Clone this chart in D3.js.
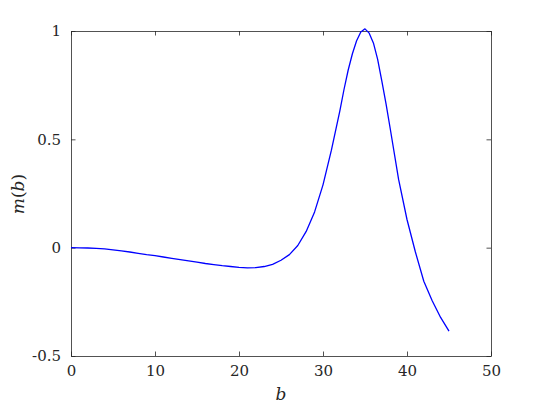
<!DOCTYPE html>
<html><head><meta charset="utf-8">
<script src="https://cdn.jsdelivr.net/npm/d3@7"></script>
<style>body{margin:0;background:#fff}svg{display:block}
text{font-family:"DejaVu Serif","Liberation Serif",serif}</style>
</head><body>
<svg id="c" width="545" height="409"></svg>
<script>
const bValues = [0,1,2,3,4,5,6,7,8,9,10,11,12,13,14,15,16,17,18,19,20,21,22,23,24,25,26,27,28,29,30,31,31.5,32,32.5,33,33.5,34,34.5,35,35.5,36,36.5,37,37.5,38,39,40,41,42,43,44,45];
const mValues = [0,-0.0005,-0.0015,-0.003,-0.006,-0.01,-0.015,-0.02,-0.026,-0.032,-0.037,-0.043,-0.049,-0.055,-0.061,-0.067,-0.073,-0.078,-0.083,-0.087,-0.091,-0.093,-0.092,-0.087,-0.077,-0.058,-0.032,0.01,0.075,0.165,0.29,0.45,0.54,0.63,0.73,0.82,0.895,0.955,0.995,1.01,0.99,0.945,0.87,0.77,0.665,0.55,0.315,0.13,-0.02,-0.155,-0.245,-0.322,-0.385];
const xTicks = [0,10,20,30,40,50];
const yTicks = [-0.5,0,0.5,1];
const yTickLabels = ["-0.5","0","0.5","1"];

const svg = d3.select("#c");
const L=71, R=491, T=31, B=356;
const x = d3.scaleLinear().domain([0,50]).range([L,R]);
const y = d3.scaleLinear().domain([-0.5,1]).range([B,T]);
const axisColor = "#262626";
const font = "DejaVu Serif, Liberation Serif, serif";

function style(g){
  g.attr("font-family",null);
  g.select(".domain").attr("stroke",axisColor).attr("stroke-width",0.8);
  g.selectAll(".tick line").attr("stroke",axisColor).attr("stroke-width",0.8);
  g.selectAll(".tick text").attr("fill",axisColor).style("font-family",font).style("font-size","15px");
}
const tl = 4.5;
svg.append("g").attr("transform",`translate(0,${B})`)
  .call(d3.axisBottom(x).tickValues(xTicks).tickSize(-tl).tickPadding(9).tickSizeOuter(0).tickFormat(d3.format("d")))
  .call(style);
svg.append("g").attr("transform",`translate(0,${T})`)
  .call(d3.axisTop(x).tickValues(xTicks).tickSize(-tl).tickSizeOuter(0).tickFormat(""))
  .call(style);
svg.append("g").attr("transform",`translate(${L},0)`)
  .call(d3.axisLeft(y).tickValues(yTicks).tickSize(-tl).tickPadding(10).tickSizeOuter(0).tickFormat((d,i)=>yTickLabels[i]))
  .call(style);
svg.append("g").attr("transform",`translate(${R},0)`)
  .call(d3.axisRight(y).tickValues(yTicks).tickSize(-tl).tickSizeOuter(0).tickFormat(""))
  .call(style);

const line = d3.line().x((d,i)=>x(bValues[i])).y(d=>y(d));
svg.append("path").datum(mValues).attr("d",line)
  .attr("fill","none").attr("stroke","#0000ff").attr("stroke-width",1.3).attr("stroke-linejoin","round");

svg.append("text").attr("x",281).attr("y",400).attr("text-anchor","middle")
  .style("font-family",font).style("font-style","italic").style("font-size","17px").attr("fill",axisColor).text("b");
svg.append("text").attr("transform","translate(24,194) rotate(-90)").attr("text-anchor","middle")
  .style("font-family",font).style("font-size","17px").attr("fill",axisColor)
  .html('<tspan font-style="italic">m</tspan>(<tspan font-style="italic">b</tspan>)');
</script>
</body></html>
